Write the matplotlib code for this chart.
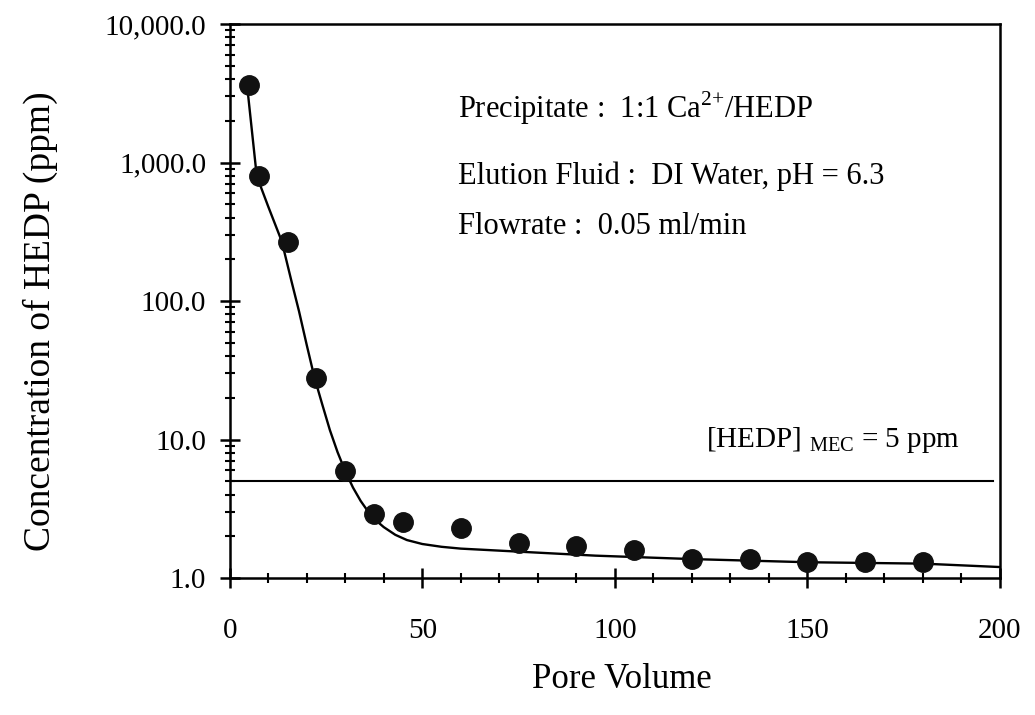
import matplotlib
matplotlib.use("Agg")
import matplotlib.pyplot as plt
from matplotlib.ticker import FixedLocator, MultipleLocator, LogLocator, FuncFormatter

plt.rcParams['font.family'] = ['Liberation Serif', 'DejaVu Serif']
plt.rcParams['mathtext.fontset'] = 'custom'
plt.rcParams['mathtext.rm'] = 'Liberation Serif'

# mesures (points)
pore_volume = [5, 7.5, 15, 22.5, 30, 37.5, 45, 60, 75, 90, 105, 120, 135, 150, 165, 180]
conc_hedp = [3600, 800, 265, 28, 5.9, 2.9, 2.55, 2.3, 1.8, 1.7, 1.6, 1.38, 1.38, 1.31, 1.31, 1.31]

# courbe ajustée
fit_x = [4.5, 7, 10, 13.5, 16, 18, 20, 22, 24, 26, 28, 30, 32, 34, 36, 38, 40, 43, 46,
         50, 55, 60, 75, 95, 120, 150, 180, 200]
fit_y = [3600, 800, 480, 270, 140, 84, 48, 28, 18, 11.7, 8.1, 5.9, 4.5, 3.6, 3.0, 2.6,
         2.33, 2.05, 1.88, 1.76, 1.68, 1.63, 1.55, 1.45, 1.37, 1.30, 1.27, 1.20]

mec = 5
y_ticks = [1, 10, 100, 1000, 10000]

fig = plt.figure(figsize=(10.35, 7.15), dpi=100)
ax = fig.add_axes([0.222, 0.1916, 0.744, 0.7748])

ax.plot(fit_x, fit_y, color='black', lw=1.7, zorder=2)
ax.plot(pore_volume, conc_hedp, 'o', color='#111111', ms=14, zorder=3)
ax.axhline(mec, xmin=0, xmax=0.991, color='black', lw=1.5, zorder=1)

ax.set_yscale('log')
ax.set_xlim(0, 200)
ax.set_ylim(1, 10000)

ax.xaxis.set_major_locator(MultipleLocator(50))
ax.xaxis.set_minor_locator(MultipleLocator(10))
ax.yaxis.set_major_locator(FixedLocator(y_ticks))
ax.yaxis.set_minor_locator(LogLocator(base=10, subs=range(2, 10)))
ax.yaxis.set_major_formatter(FuncFormatter(lambda v, p: '{:,.1f}'.format(v)))
ax.yaxis.set_minor_formatter(FuncFormatter(lambda v, p: ''))

for s in ax.spines.values():
    s.set_linewidth(1.8)

ax.tick_params(axis='both', which='major', direction='inout', length=14, width=1.8,
               labelsize=21, top=False, right=False)
ax.tick_params(axis='both', which='minor', direction='inout', length=7, width=1.5,
               top=False, right=False)
ax.tick_params(axis='x', which='major', pad=22)
ax.tick_params(axis='y', which='major', pad=10)

fig.text(0.039, 0.551, 'Concentration of HEDP (ppm)', rotation=90, fontsize=27,
         ha='center', va='center')
fig.text(0.601, 0.049, 'Pore Volume', fontsize=25, ha='center', va='center')

ax.text(0.297, 0.848, r'Precipitate :  1:1 Ca$^{2{+}}$/HEDP', transform=ax.transAxes,
        fontsize=22, va='center')
ax.text(0.297, 0.726, 'Elution Fluid :  DI Water, pH = 6.3', transform=ax.transAxes,
        fontsize=22, va='center')
ax.text(0.297, 0.635, 'Flowrate :  0.05 ml/min', transform=ax.transAxes,
        fontsize=22, va='center')
ax.text(0.619, 0.249, r'[HEDP] $_{\mathrm{MEC}}$ = 5 ppm', transform=ax.transAxes,
        fontsize=21, va='center')

fig.savefig('out.png', dpi=100)
